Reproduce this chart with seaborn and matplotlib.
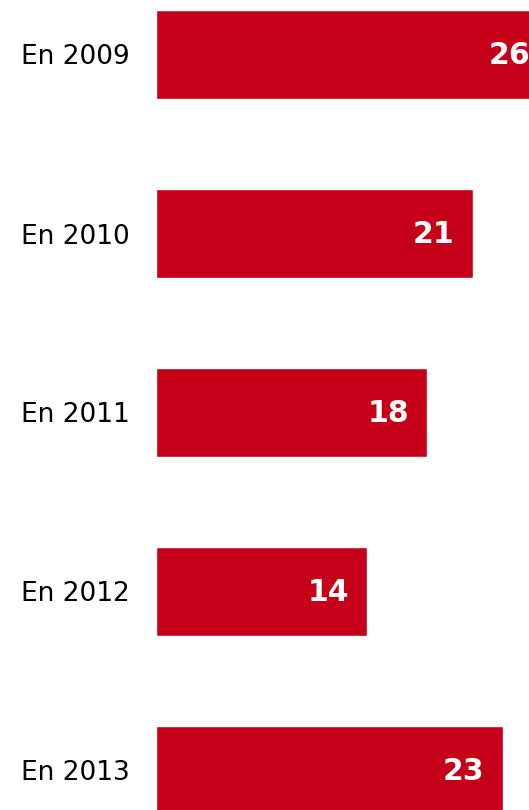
"""Horizontal bar chart: yearly values, 2009-2013."""
import matplotlib
matplotlib.use("Agg")
import matplotlib.pyplot as plt
import pandas as pd
import seaborn as sns

YEARS = ["En 2009", "En 2010", "En 2011", "En 2012", "En 2013"]
VALUES = [26, 21, 18, 14, 23]

BAR_COLOR = "#C50018"

sns.set_style("white")
plt.rcParams["font.family"] = ["DejaVu Sans"]

df = pd.DataFrame({"year": YEARS, "value": VALUES})

fig = plt.figure(figsize=(5.29, 8.10), dpi=100)
# axes starts where the bars start, runs to the right and bottom edge
ax = fig.add_axes([155.5 / 529, 0, 373.5 / 529, 1])

sns.barplot(data=df, x="value", y="year", orient="h", color=BAR_COLOR,
            width=0.5, saturation=1, ax=ax)

ax.set_xlim(0, 373.5 / 15.1)
ax.set_ylim(810 / 179 - 54.5 / 179, -54.5 / 179)

for i, v in enumerate(VALUES):
    ax.annotate(str(v), xy=(v, i), xytext=(-13, -1), textcoords="offset points",
                ha="right", va="center", color="white", fontsize=21.5,
                fontweight="bold", annotation_clip=False)

ax.set_xlabel("")
ax.set_ylabel("")
ax.set_xticks([])
ax.tick_params(axis="y", length=0, pad=18.3, labelsize=19, labelcolor="black")
sns.despine(ax=ax, left=True, bottom=True)

fig.savefig("out.png", dpi=100)
plt.close(fig)
